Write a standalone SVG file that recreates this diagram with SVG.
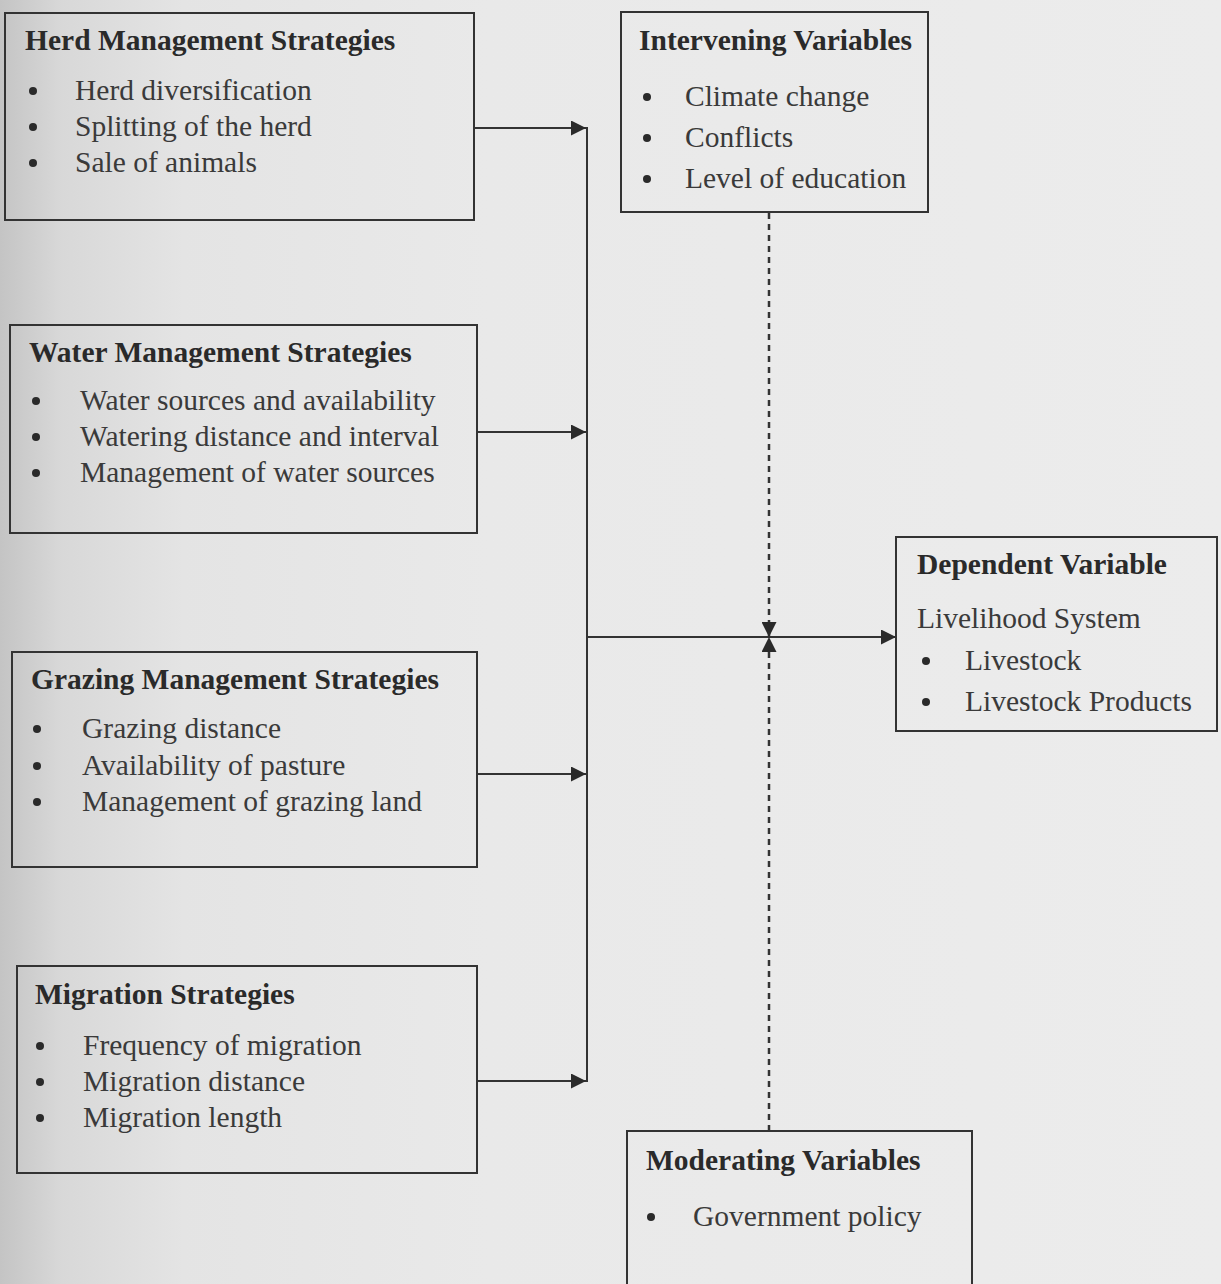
<svg xmlns="http://www.w3.org/2000/svg" width="1221" height="1284" viewBox="0 0 1221 1284">
  <defs>
    <linearGradient id="bg" x1="0" y1="0" x2="1" y2="0">
      <stop offset="0" stop-color="#c4c4c4"/>
      <stop offset="0.05" stop-color="#d8d8d8"/>
      <stop offset="0.15" stop-color="#e4e4e4"/>
      <stop offset="0.4" stop-color="#e9e9e9"/>
      <stop offset="1" stop-color="#ececec"/>
    </linearGradient>
    <marker id="arr" viewBox="0 0 10 10" refX="10" refY="5" markerWidth="15" markerHeight="15" markerUnits="userSpaceOnUse" orient="auto">
      <path d="M0,0 L10,5 L0,10 z" fill="#2a2a2a"/>
    </marker>
  </defs>
  <style>
    .box { fill: none; stroke: #333; stroke-width: 2; }
    .line { fill: none; stroke: #333; stroke-width: 2; }
    .dash { fill: none; stroke: #333; stroke-width: 2.5; stroke-dasharray: 6 5; }
    .title { font-family: "Liberation Serif", "Times New Roman", serif; font-weight: bold; font-size: 29.5px; fill: #2a2a2a; }
    .item { font-family: "Liberation Serif", "Times New Roman", serif; font-size: 29.5px; fill: #3a3a3a; }
    .bul { fill: #2a2a2a; }
  </style>
  <rect x="0" y="0" width="1221" height="1284" fill="url(#bg)"/>

  <g id="connectors">
    <line class="line" x1="474" y1="128" x2="586" y2="128" marker-end="url(#arr)"/>
    <line class="line" x1="477" y1="432" x2="586" y2="432" marker-end="url(#arr)"/>
    <line class="line" x1="477" y1="774" x2="586" y2="774" marker-end="url(#arr)"/>
    <line class="line" x1="477" y1="1081" x2="586" y2="1081" marker-end="url(#arr)"/>
    <line class="line" x1="587" y1="127" x2="587" y2="1082"/>
    <line class="line" x1="587" y1="637" x2="896" y2="637" marker-end="url(#arr)"/>
    <line class="dash" x1="769" y1="213" x2="769" y2="637" marker-end="url(#arr)"/>
    <line class="dash" x1="769" y1="1131" x2="769" y2="637" marker-end="url(#arr)"/>
  </g>

  <g id="herd">
    <rect class="box" x="5" y="13" width="469" height="207"/>
    <text class="title" x="25" y="50">Herd Management Strategies</text>
    <circle class="bul" cx="33" cy="91" r="4"/>
    <circle class="bul" cx="33" cy="127" r="4"/>
    <circle class="bul" cx="33" cy="163" r="4"/>
    <text class="item" x="75" y="100">Herd diversification</text>
    <text class="item" x="75" y="136">Splitting of the herd</text>
    <text class="item" x="75" y="172">Sale of animals</text>
  </g>

  <g id="intervening">
    <rect class="box" x="621" y="12" width="307" height="200"/>
    <text class="title" x="639" y="50">Intervening Variables</text>
    <circle class="bul" cx="647" cy="97" r="4"/>
    <circle class="bul" cx="647" cy="138" r="4"/>
    <circle class="bul" cx="647" cy="179" r="4"/>
    <text class="item" x="685" y="106">Climate change</text>
    <text class="item" x="685" y="147">Conflicts</text>
    <text class="item" x="685" y="188">Level of education</text>
  </g>

  <g id="water">
    <rect class="box" x="10" y="325" width="467" height="208"/>
    <text class="title" x="29" y="362">Water Management Strategies</text>
    <circle class="bul" cx="36" cy="401" r="4"/>
    <circle class="bul" cx="36" cy="437" r="4"/>
    <circle class="bul" cx="36" cy="473" r="4"/>
    <text class="item" x="80" y="410">Water sources and availability</text>
    <text class="item" x="80" y="446">Watering distance and interval</text>
    <text class="item" x="80" y="482">Management of water sources</text>
  </g>

  <g id="grazing">
    <rect class="box" x="12" y="652" width="465" height="215"/>
    <text class="title" x="31" y="689">Grazing Management Strategies</text>
    <circle class="bul" cx="37" cy="729" r="4"/>
    <circle class="bul" cx="37" cy="766" r="4"/>
    <circle class="bul" cx="37" cy="802" r="4"/>
    <text class="item" x="82" y="738">Grazing distance</text>
    <text class="item" x="82" y="775">Availability of pasture</text>
    <text class="item" x="82" y="811">Management of grazing land</text>
  </g>

  <g id="migration">
    <rect class="box" x="17" y="966" width="460" height="207"/>
    <text class="title" x="35" y="1004">Migration Strategies</text>
    <circle class="bul" cx="40" cy="1046" r="4"/>
    <circle class="bul" cx="40" cy="1082" r="4"/>
    <circle class="bul" cx="40" cy="1118" r="4"/>
    <text class="item" x="83" y="1055">Frequency of migration</text>
    <text class="item" x="83" y="1091">Migration distance</text>
    <text class="item" x="83" y="1127">Migration length</text>
  </g>

  <g id="dependent">
    <rect class="box" x="896" y="537" width="321" height="194"/>
    <text class="title" x="917" y="574">Dependent Variable</text>
    <text class="item" x="917" y="628">Livelihood System</text>
    <circle class="bul" cx="926" cy="661" r="4"/>
    <circle class="bul" cx="926" cy="702" r="4"/>
    <text class="item" x="965" y="670">Livestock</text>
    <text class="item" x="965" y="711">Livestock Products</text>
  </g>

  <g id="moderating">
    <rect class="box" x="627" y="1131" width="345" height="170"/>
    <text class="title" x="646" y="1170">Moderating Variables</text>
    <circle class="bul" cx="651" cy="1217" r="4"/>
    <text class="item" x="693" y="1226">Government policy</text>
  </g>
</svg>
